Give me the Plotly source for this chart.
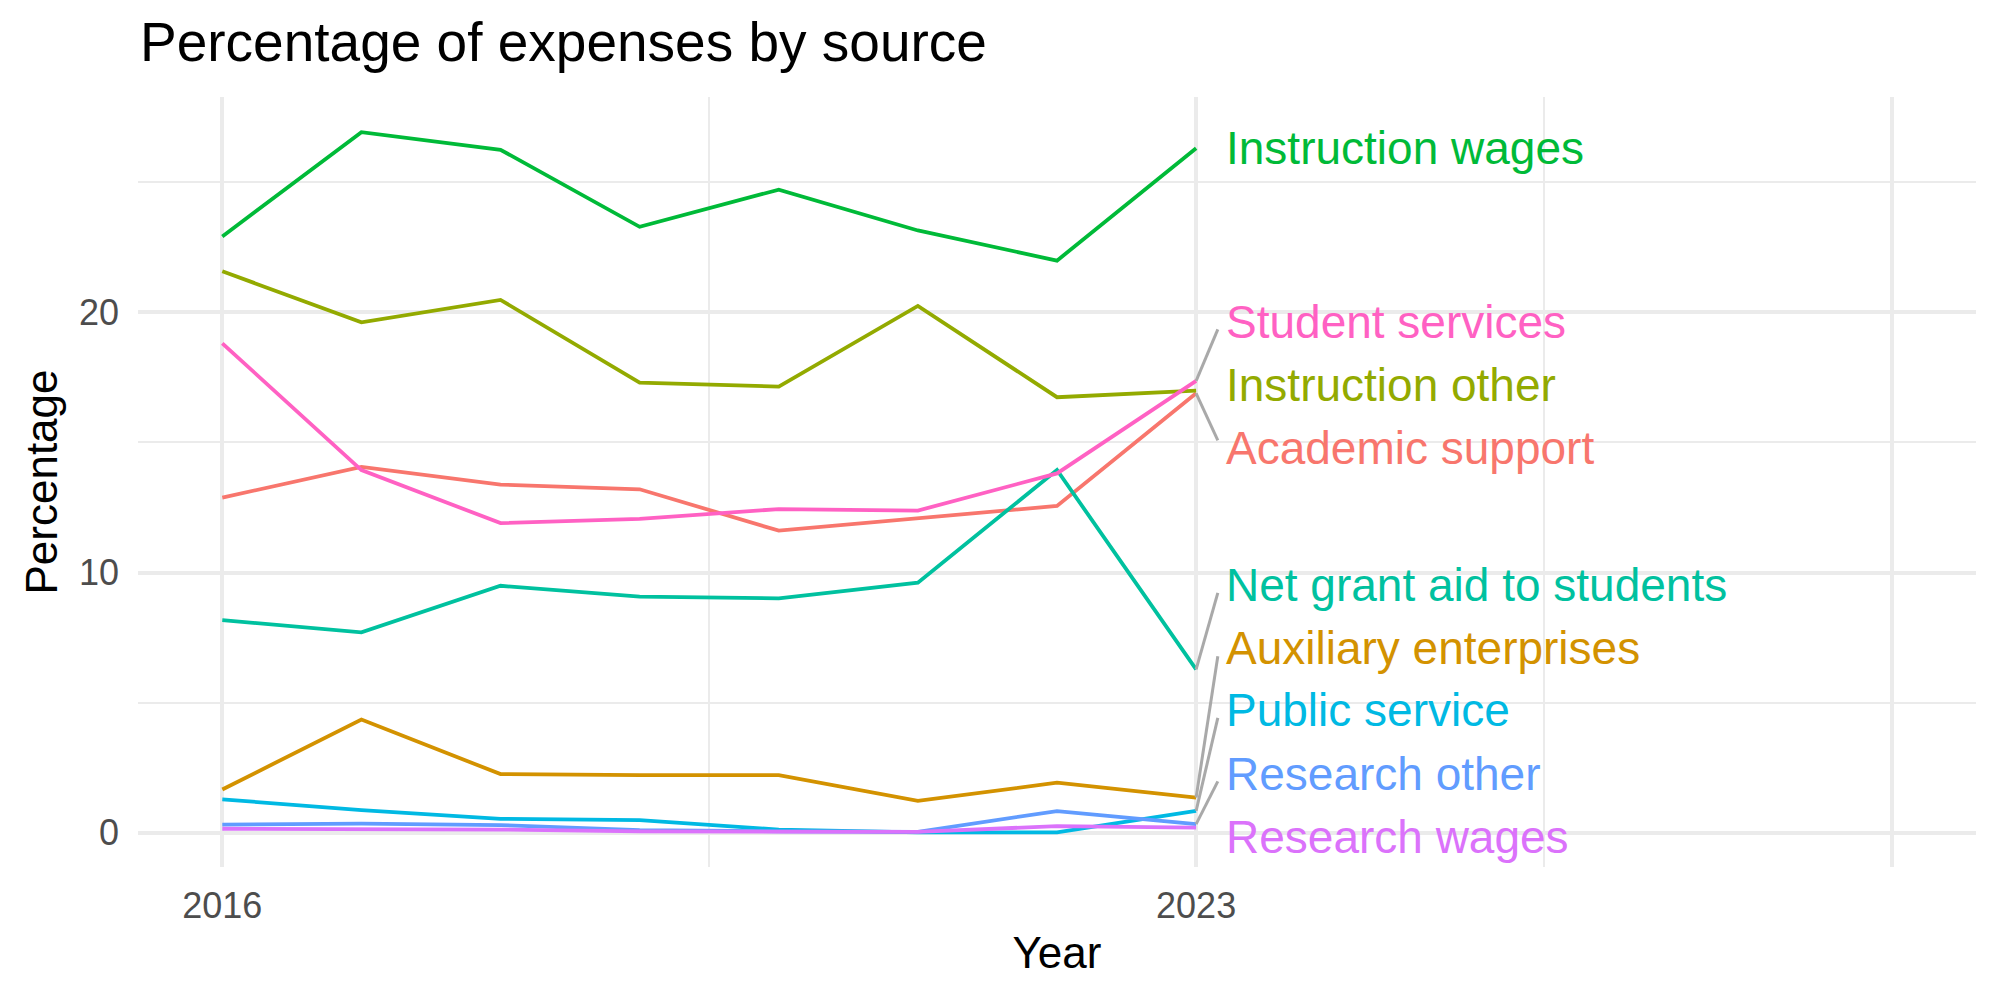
import plotly.graph_objects as go

years = [2016, 2017, 2018, 2019, 2020, 2021, 2022, 2023]

academic_support = [12.88, 14.06, 13.38, 13.20, 11.61, 12.08, 12.56, 16.89]
auxiliary_enterprises = [1.66, 4.35, 2.25, 2.21, 2.21, 1.22, 1.92, 1.35]
instruction_other = [21.58, 19.62, 20.48, 17.30, 17.15, 20.25, 16.74, 16.99]
instruction_wages = [22.92, 26.93, 26.25, 23.29, 24.72, 23.15, 21.99, 26.31]
net_grant_aid = [8.17, 7.70, 9.49, 9.07, 9.01, 9.61, 13.94, 6.28]
public_service = [1.28, 0.87, 0.53, 0.48, 0.12, 0.01, 0.01, 0.84]
research_other = [0.31, 0.35, 0.29, 0.10, 0.05, 0.03, 0.83, 0.33]
research_wages = [0.15, 0.14, 0.12, 0.05, 0.03, 0.03, 0.25, 0.19]
student_services = [18.81, 13.94, 11.90, 12.06, 12.44, 12.38, 13.81, 17.37]

series_names = ["Academic support", "Auxiliary enterprises", "Instruction other",
                "Instruction wages", "Net grant aid to students", "Public service",
                "Research other", "Research wages", "Student services"]
series_values = [academic_support, auxiliary_enterprises, instruction_other,
                 instruction_wages, net_grant_aid, public_service,
                 research_other, research_wages, student_services]
series_colors = ["#F8766D", "#D39200", "#93AA00", "#00BA38", "#00C19F",
                 "#00B9E3", "#619CFF", "#DB72FB", "#FF61C3"]
# repelled label positions (y, data units)
label_y = [14.78, 7.08, 17.21, 26.31, 9.52, 4.71, 2.27, -0.16, 19.65]

x_ticks = [2016, 2023, 2028]
x_ticktext = ["2016", "2023", ""]
x_minor = [2019.5, 2025.5]
y_ticks = [0, 10, 20]
y_minor = [5, 15, 25]

FONT = "Liberation Sans, Arial, sans-serif"
fig = go.Figure()

for name, vals, col in zip(series_names, series_values, series_colors):
    fig.add_trace(go.Scatter(x=years, y=vals, mode="lines", name=name,
                             line=dict(color=col, width=3.8), showlegend=False))

seg_x_end = years[-1] + 0.156
for name, vals, col, ly in zip(series_names, series_values, series_colors, label_y):
    last = vals[-1]
    if abs(ly - last) > 0.5:
        sgn = 1 if ly > last else -1
        fig.add_trace(go.Scatter(x=[years[-1], seg_x_end], y=[last, ly - sgn * 0.3],
                                 mode="lines", line=dict(color="#A9A9A9", width=3),
                                 showlegend=False, hoverinfo="skip"))
    fig.add_annotation(x=years[-1] + 0.2, y=ly, text=name, showarrow=False,
                       xanchor="left", yanchor="middle", xref="x", yref="y",
                       font=dict(family=FONT, size=46, color=col))

grid = "#EBEBEB"
fig.update_layout(
    width=2000, height=1000,
    paper_bgcolor="white", plot_bgcolor="white",
    margin=dict(l=138, r=24, t=97, b=133),
    title=dict(text="Percentage of expenses by source", xref="container", x=0.07,
               xanchor="left", yref="container", y=0.958, yanchor="middle",
               font=dict(family=FONT, size=55, color="black")),
    xaxis=dict(range=[2015.394, 2028.606], tickvals=x_ticks, ticktext=x_ticktext,
               showgrid=True, gridcolor=grid, gridwidth=3.5, zeroline=False,
               showline=False, ticks="", ticklabelstandoff=14,
               tickfont=dict(family=FONT, size=36, color="#4D4D4D"),
               minor=dict(tickvals=x_minor, showgrid=True, gridcolor=grid, gridwidth=1.8),
               title=dict(text="Year", standoff=12,
                          font=dict(family=FONT, size=44, color="black"))),
    yaxis=dict(range=[-1.32, 28.28], tickvals=y_ticks,
               showgrid=True, gridcolor=grid, gridwidth=3.5, zeroline=False,
               showline=False, ticks="", ticklabelstandoff=18,
               tickfont=dict(family=FONT, size=36, color="#4D4D4D"),
               minor=dict(tickvals=y_minor, showgrid=True, gridcolor=grid, gridwidth=1.8),
               title=dict(text="Percentage", standoff=7,
                          font=dict(family=FONT, size=44, color="black"))),
)

fig.write_html("out.html")
